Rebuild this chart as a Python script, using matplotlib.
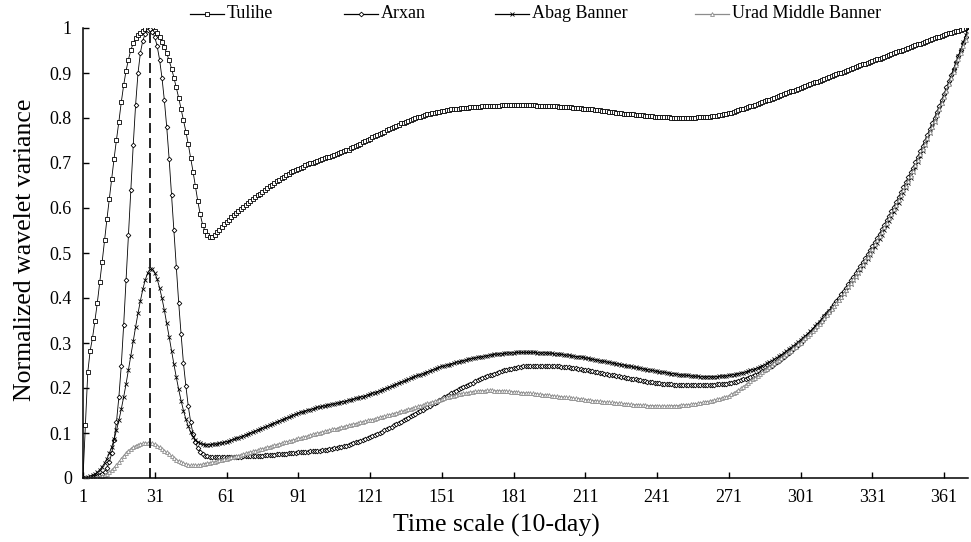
import numpy as np
import matplotlib
matplotlib.use("Agg")
import matplotlib.pyplot as plt
from matplotlib.lines import Line2D

plt.rcParams['font.family'] = ['Liberation Serif', 'DejaVu Serif']

# ---------------- data (normalized wavelet variance, time scale 1..371) -------------
series_names = ["Tulihe", "Arxan", "Abag Banner", "Urad Middle Banner"]
xtick_labels = [1, 31, 61, 91, 121, 151, 181, 211, 241, 271, 301, 331, 361]
ytick_labels = ["0", "0.1", "0.2", "0.3", "0.4", "0.5", "0.6", "0.7", "0.8", "0.9", "1"]
peak_scale = 29

tulihe = [
    0.000, 0.118, 0.235, 0.283, 0.312, 0.350, 0.390, 0.435, 0.480, 0.528,
    0.575, 0.620, 0.665, 0.710, 0.752, 0.792, 0.835, 0.873, 0.905, 0.930,
    0.951, 0.966, 0.977, 0.985, 0.990, 0.994, 0.997, 0.999, 1.000, 0.998,
    0.994, 0.988, 0.980, 0.970, 0.958, 0.944, 0.928, 0.910, 0.890, 0.868,
    0.845, 0.820, 0.795, 0.770, 0.742, 0.712, 0.681, 0.648, 0.615, 0.586,
    0.563, 0.549, 0.540, 0.536, 0.536, 0.540, 0.546, 0.552, 0.558, 0.564,
    0.569, 0.574, 0.579, 0.584, 0.589, 0.594, 0.598, 0.603, 0.607, 0.612,
    0.616, 0.620, 0.624, 0.628, 0.632, 0.636, 0.640, 0.644, 0.648, 0.652,
    0.656, 0.659, 0.663, 0.666, 0.670, 0.673, 0.676, 0.679, 0.682, 0.685,
    0.687, 0.690, 0.692, 0.695, 0.697, 0.699, 0.701, 0.703, 0.705, 0.707,
    0.709, 0.711, 0.713, 0.714, 0.716, 0.718, 0.720, 0.722, 0.724, 0.726,
    0.728, 0.730, 0.733, 0.735, 0.738, 0.740, 0.743, 0.746, 0.748, 0.751,
    0.754, 0.757, 0.759, 0.762, 0.765, 0.767, 0.770, 0.773, 0.775, 0.778,
    0.780, 0.783, 0.785, 0.788, 0.790, 0.792, 0.794, 0.796, 0.798, 0.800,
    0.802, 0.803, 0.805, 0.806, 0.808, 0.809, 0.811, 0.812, 0.813, 0.814,
    0.815, 0.816, 0.817, 0.818, 0.819, 0.820, 0.820, 0.821, 0.822, 0.822,
    0.823, 0.823, 0.824, 0.824, 0.825, 0.825, 0.825, 0.826, 0.826, 0.826,
    0.827, 0.827, 0.827, 0.827, 0.827, 0.828, 0.828, 0.828, 0.828, 0.828,
    0.828, 0.828, 0.828, 0.828, 0.828, 0.828, 0.828, 0.828, 0.828, 0.828,
    0.827, 0.827, 0.827, 0.827, 0.827, 0.826, 0.826, 0.826, 0.826, 0.825,
    0.825, 0.825, 0.824, 0.824, 0.824, 0.823, 0.823, 0.822, 0.822, 0.821,
    0.821, 0.820, 0.820, 0.819, 0.818, 0.818, 0.817, 0.816, 0.816, 0.815,
    0.814, 0.814, 0.813, 0.812, 0.812, 0.811, 0.810, 0.810, 0.809, 0.808,
    0.808, 0.807, 0.807, 0.806, 0.806, 0.805, 0.805, 0.804, 0.804, 0.803,
    0.803, 0.803, 0.802, 0.802, 0.802, 0.802, 0.801, 0.801, 0.801, 0.801,
    0.801, 0.801, 0.801, 0.801, 0.801, 0.801, 0.801, 0.802, 0.802, 0.802,
    0.802, 0.803, 0.803, 0.804, 0.804, 0.805, 0.806, 0.807, 0.808, 0.809,
    0.811, 0.812, 0.814, 0.815, 0.817, 0.819, 0.820, 0.822, 0.824, 0.826,
    0.827, 0.829, 0.831, 0.833, 0.835, 0.837, 0.839, 0.841, 0.843, 0.845,
    0.847, 0.849, 0.851, 0.853, 0.855, 0.857, 0.859, 0.861, 0.863, 0.865,
    0.867, 0.869, 0.871, 0.873, 0.875, 0.877, 0.879, 0.881, 0.883, 0.885,
    0.887, 0.889, 0.891, 0.893, 0.895, 0.897, 0.899, 0.901, 0.903, 0.905,
    0.907, 0.909, 0.911, 0.913, 0.915, 0.917, 0.919, 0.921, 0.923, 0.925,
    0.927, 0.929, 0.931, 0.932, 0.934, 0.936, 0.938, 0.940, 0.942, 0.944,
    0.946, 0.948, 0.950, 0.952, 0.954, 0.956, 0.958, 0.960, 0.962, 0.964,
    0.965, 0.967, 0.969, 0.971, 0.973, 0.975, 0.977, 0.979, 0.981, 0.983,
    0.984, 0.986, 0.988, 0.990, 0.991, 0.993, 0.994, 0.996, 0.997, 0.999,
    1.000,
]

arxan = [
    0.000, 0.000, 0.001, 0.001, 0.002, 0.003, 0.004, 0.006, 0.009, 0.014,
    0.022, 0.035, 0.055, 0.085, 0.125, 0.180, 0.250, 0.340, 0.440, 0.540,
    0.640, 0.740, 0.830, 0.900, 0.945, 0.972, 0.987, 0.995, 0.997, 0.992,
    0.980, 0.960, 0.930, 0.890, 0.840, 0.780, 0.710, 0.630, 0.550, 0.470,
    0.390, 0.320, 0.255, 0.205, 0.160, 0.125, 0.098, 0.079, 0.066, 0.058,
    0.053, 0.050, 0.048, 0.047, 0.046, 0.046, 0.046, 0.046, 0.046, 0.046,
    0.046, 0.046, 0.047, 0.047, 0.047, 0.047, 0.047, 0.048, 0.048, 0.048,
    0.049, 0.049, 0.049, 0.050, 0.050, 0.050, 0.051, 0.051, 0.052, 0.052,
    0.052, 0.053, 0.053, 0.054, 0.054, 0.054, 0.055, 0.055, 0.056, 0.056,
    0.057, 0.057, 0.058, 0.058, 0.058, 0.059, 0.059, 0.060, 0.060, 0.061,
    0.062, 0.062, 0.063, 0.064, 0.065, 0.066, 0.067, 0.068, 0.069, 0.071,
    0.072, 0.074, 0.075, 0.077, 0.079, 0.080, 0.082, 0.084, 0.086, 0.088,
    0.091, 0.093, 0.095, 0.098, 0.100, 0.103, 0.106, 0.108, 0.111, 0.114,
    0.117, 0.120, 0.122, 0.125, 0.128, 0.131, 0.134, 0.137, 0.140, 0.143,
    0.146, 0.149, 0.152, 0.155, 0.158, 0.161, 0.164, 0.167, 0.170, 0.173,
    0.176, 0.179, 0.182, 0.185, 0.188, 0.191, 0.194, 0.197, 0.199, 0.202,
    0.205, 0.207, 0.210, 0.212, 0.215, 0.217, 0.219, 0.222, 0.224, 0.226,
    0.228, 0.230, 0.232, 0.234, 0.236, 0.237, 0.239, 0.240, 0.242, 0.243,
    0.244, 0.245, 0.246, 0.247, 0.248, 0.248, 0.249, 0.249, 0.250, 0.250,
    0.250, 0.250, 0.250, 0.250, 0.250, 0.249, 0.249, 0.249, 0.248, 0.248,
    0.247, 0.247, 0.246, 0.246, 0.245, 0.244, 0.244, 0.243, 0.242, 0.241,
    0.240, 0.239, 0.238, 0.237, 0.236, 0.235, 0.234, 0.233, 0.232, 0.231,
    0.230, 0.229, 0.228, 0.227, 0.226, 0.225, 0.224, 0.223, 0.222, 0.221,
    0.220, 0.219, 0.218, 0.217, 0.216, 0.215, 0.214, 0.214, 0.213, 0.212,
    0.211, 0.211, 0.210, 0.209, 0.209, 0.208, 0.208, 0.207, 0.207, 0.207,
    0.206, 0.206, 0.206, 0.206, 0.206, 0.206, 0.206, 0.206, 0.206, 0.206,
    0.206, 0.206, 0.207, 0.207, 0.207, 0.208, 0.208, 0.209, 0.209, 0.210,
    0.211, 0.212, 0.213, 0.214, 0.216, 0.217, 0.219, 0.221, 0.223, 0.225,
    0.227, 0.229, 0.232, 0.234, 0.237, 0.240, 0.243, 0.246, 0.249, 0.253,
    0.257, 0.261, 0.265, 0.269, 0.273, 0.277, 0.282, 0.286, 0.291, 0.296,
    0.301, 0.306, 0.311, 0.317, 0.322, 0.328, 0.334, 0.340, 0.346, 0.352,
    0.359, 0.366, 0.372, 0.379, 0.386, 0.393, 0.400, 0.408, 0.415, 0.423,
    0.431, 0.439, 0.447, 0.455, 0.463, 0.472, 0.480, 0.489, 0.497, 0.506,
    0.515, 0.524, 0.534, 0.543, 0.553, 0.563, 0.573, 0.583, 0.593, 0.603,
    0.614, 0.624, 0.635, 0.646, 0.657, 0.668, 0.679, 0.690, 0.702, 0.714,
    0.726, 0.738, 0.750, 0.762, 0.775, 0.788, 0.801, 0.814, 0.827, 0.840,
    0.854, 0.868, 0.882, 0.896, 0.910, 0.924, 0.938, 0.952, 0.966, 0.980,
    0.994,
]

abag = [
    0.000, 0.001, 0.002, 0.004, 0.006, 0.009, 0.013, 0.018, 0.025, 0.033,
    0.043, 0.055, 0.069, 0.086, 0.106, 0.128, 0.153, 0.180, 0.209, 0.240,
    0.272, 0.304, 0.336, 0.366, 0.394, 0.419, 0.440, 0.455, 0.464, 0.464,
    0.456, 0.442, 0.423, 0.400, 0.373, 0.344, 0.314, 0.283, 0.253, 0.224,
    0.197, 0.172, 0.150, 0.131, 0.115, 0.102, 0.092, 0.085, 0.080, 0.077,
    0.075, 0.074, 0.074, 0.074, 0.075, 0.075, 0.076, 0.077, 0.078, 0.079,
    0.081, 0.082, 0.084, 0.086, 0.088, 0.090, 0.092, 0.094, 0.096, 0.098,
    0.100, 0.102, 0.104, 0.107, 0.109, 0.111, 0.113, 0.115, 0.118, 0.120,
    0.122, 0.124, 0.127, 0.129, 0.131, 0.133, 0.135, 0.137, 0.140, 0.142,
    0.144, 0.146, 0.147, 0.149, 0.151, 0.152, 0.154, 0.155, 0.157, 0.158,
    0.159, 0.160, 0.162, 0.163, 0.164, 0.165, 0.166, 0.167, 0.169, 0.170,
    0.171, 0.173, 0.174, 0.175, 0.177, 0.178, 0.180, 0.181, 0.183, 0.185,
    0.186, 0.188, 0.190, 0.192, 0.194, 0.196, 0.198, 0.200, 0.202, 0.204,
    0.206, 0.208, 0.211, 0.213, 0.215, 0.217, 0.219, 0.222, 0.224, 0.226,
    0.228, 0.230, 0.232, 0.234, 0.236, 0.238, 0.240, 0.242, 0.244, 0.246,
    0.248, 0.249, 0.251, 0.252, 0.254, 0.255, 0.257, 0.258, 0.260, 0.261,
    0.262, 0.264, 0.265, 0.266, 0.267, 0.268, 0.269, 0.270, 0.271, 0.272,
    0.273, 0.274, 0.275, 0.275, 0.276, 0.276, 0.277, 0.277, 0.278, 0.278,
    0.278, 0.279, 0.279, 0.279, 0.279, 0.279, 0.279, 0.279, 0.279, 0.279,
    0.278, 0.278, 0.278, 0.278, 0.278, 0.277, 0.277, 0.276, 0.276, 0.275,
    0.275, 0.274, 0.273, 0.273, 0.272, 0.271, 0.270, 0.270, 0.269, 0.268,
    0.267, 0.266, 0.265, 0.264, 0.263, 0.262, 0.261, 0.260, 0.259, 0.258,
    0.257, 0.256, 0.255, 0.254, 0.253, 0.252, 0.251, 0.250, 0.249, 0.248,
    0.247, 0.246, 0.245, 0.244, 0.243, 0.242, 0.241, 0.240, 0.239, 0.238,
    0.237, 0.236, 0.235, 0.235, 0.234, 0.233, 0.232, 0.232, 0.231, 0.230,
    0.229, 0.229, 0.228, 0.228, 0.227, 0.227, 0.226, 0.226, 0.225, 0.225,
    0.225, 0.225, 0.225, 0.225, 0.225, 0.225, 0.226, 0.226, 0.227, 0.227,
    0.228, 0.229, 0.230, 0.231, 0.232, 0.233, 0.234, 0.236, 0.237, 0.239,
    0.241, 0.243, 0.245, 0.247, 0.250, 0.252, 0.255, 0.258, 0.261, 0.264,
    0.267, 0.271, 0.274, 0.278, 0.282, 0.286, 0.290, 0.294, 0.298, 0.303,
    0.307, 0.312, 0.316, 0.321, 0.326, 0.331, 0.337, 0.342, 0.347, 0.353,
    0.359, 0.365, 0.371, 0.377, 0.383, 0.390, 0.396, 0.403, 0.410, 0.417,
    0.424, 0.432, 0.439, 0.447, 0.455, 0.463, 0.471, 0.479, 0.487, 0.496,
    0.505, 0.514, 0.523, 0.532, 0.541, 0.551, 0.561, 0.571, 0.581, 0.591,
    0.601, 0.612, 0.623, 0.634, 0.645, 0.656, 0.667, 0.679, 0.691, 0.703,
    0.715, 0.727, 0.740, 0.753, 0.766, 0.779, 0.792, 0.806, 0.820, 0.834,
    0.848, 0.862, 0.877, 0.892, 0.907, 0.922, 0.937, 0.952, 0.968, 0.984,
    1.000,
]

urad = [
    0.000, 0.000, 0.000, 0.000, 0.001, 0.001, 0.002, 0.003, 0.004, 0.006,
    0.009, 0.013, 0.018, 0.023, 0.029, 0.036, 0.043, 0.050, 0.056, 0.061,
    0.065, 0.069, 0.072, 0.074, 0.076, 0.077, 0.078, 0.078, 0.078, 0.077,
    0.075, 0.072, 0.069, 0.065, 0.061, 0.057, 0.053, 0.049, 0.045, 0.041,
    0.038, 0.035, 0.033, 0.031, 0.029, 0.028, 0.028, 0.028, 0.029, 0.030,
    0.031, 0.032, 0.033, 0.034, 0.035, 0.036, 0.037, 0.039, 0.040, 0.042,
    0.043, 0.044, 0.046, 0.047, 0.049, 0.050, 0.052, 0.053, 0.055, 0.056,
    0.058, 0.059, 0.061, 0.062, 0.064, 0.065, 0.067, 0.068, 0.070, 0.071,
    0.073, 0.074, 0.076, 0.077, 0.079, 0.080, 0.082, 0.083, 0.085, 0.086,
    0.088, 0.089, 0.091, 0.092, 0.094, 0.095, 0.097, 0.098, 0.099, 0.101,
    0.102, 0.104, 0.105, 0.106, 0.108, 0.109, 0.110, 0.112, 0.113, 0.114,
    0.116, 0.117, 0.118, 0.120, 0.121, 0.122, 0.124, 0.125, 0.126, 0.128,
    0.129, 0.130, 0.132, 0.133, 0.135, 0.136, 0.137, 0.139, 0.140, 0.142,
    0.143, 0.145, 0.146, 0.148, 0.149, 0.151, 0.153, 0.154, 0.156, 0.157,
    0.159, 0.161, 0.162, 0.164, 0.166, 0.167, 0.169, 0.171, 0.172, 0.174,
    0.176, 0.177, 0.179, 0.180, 0.182, 0.183, 0.185, 0.186, 0.187, 0.188,
    0.189, 0.190, 0.191, 0.192, 0.193, 0.193, 0.194, 0.194, 0.194, 0.195,
    0.195, 0.195, 0.194, 0.194, 0.194, 0.194, 0.193, 0.193, 0.193, 0.192,
    0.192, 0.191, 0.191, 0.190, 0.190, 0.189, 0.189, 0.188, 0.188, 0.187,
    0.187, 0.186, 0.185, 0.185, 0.184, 0.184, 0.183, 0.182, 0.182, 0.181,
    0.181, 0.180, 0.179, 0.179, 0.178, 0.177, 0.177, 0.176, 0.176, 0.175,
    0.174, 0.174, 0.173, 0.172, 0.172, 0.171, 0.171, 0.170, 0.169, 0.169,
    0.168, 0.168, 0.167, 0.167, 0.166, 0.166, 0.165, 0.165, 0.164, 0.164,
    0.163, 0.163, 0.163, 0.162, 0.162, 0.162, 0.161, 0.161, 0.161, 0.161,
    0.160, 0.160, 0.160, 0.160, 0.160, 0.160, 0.161, 0.161, 0.161, 0.161,
    0.162, 0.162, 0.163, 0.163, 0.164, 0.164, 0.165, 0.166, 0.167, 0.168,
    0.169, 0.170, 0.171, 0.172, 0.173, 0.175, 0.176, 0.178, 0.179, 0.181,
    0.183, 0.186, 0.189, 0.192, 0.195, 0.199, 0.203, 0.207, 0.211, 0.215,
    0.219, 0.223, 0.227, 0.231, 0.235, 0.239, 0.243, 0.247, 0.251, 0.255,
    0.259, 0.263, 0.267, 0.271, 0.275, 0.279, 0.283, 0.288, 0.292, 0.297,
    0.301, 0.306, 0.311, 0.316, 0.321, 0.326, 0.332, 0.337, 0.343, 0.349,
    0.355, 0.362, 0.368, 0.375, 0.382, 0.389, 0.396, 0.403, 0.411, 0.418,
    0.426, 0.434, 0.442, 0.450, 0.458, 0.467, 0.475, 0.484, 0.492, 0.501,
    0.510, 0.519, 0.528, 0.538, 0.547, 0.557, 0.567, 0.577, 0.587, 0.597,
    0.607, 0.618, 0.628, 0.639, 0.650, 0.661, 0.672, 0.683, 0.695, 0.707,
    0.719, 0.731, 0.743, 0.755, 0.768, 0.781, 0.794, 0.807, 0.820, 0.833,
    0.847, 0.861, 0.875, 0.889, 0.903, 0.917, 0.931, 0.945, 0.959, 0.973,
    0.987,
]

# ---------------- figure ------------------------------------------------------------
W, H = 971, 542
fig = plt.figure(figsize=(W / 100, H / 100), dpi=100)
ax = fig.add_axes([83 / W, 64 / H, 885 / W, 450 / H])

scales = np.arange(1, len(tulihe) + 1)
styles = [
    dict(color="black", marker="s", ms=3.2, mfc="white", mec="black", mew=0.6),
    dict(color="black", marker="D", ms=2.4, mfc="white", mec="black", mew=0.6),
    dict(color="black", marker="x", ms=3.0, mec="black", mew=0.6),
    dict(color="#8c8c8c", marker="^", ms=2.8, mfc="white", mec="#8c8c8c", mew=0.6),
]
for name, vals, st in zip(series_names, [tulihe, arxan, abag, urad], styles):
    ax.plot(scales, vals, lw=0.6, label=name, **st)

ax.vlines(peak_scale, 0, 0.995, colors="black", linestyles=(0, (6, 3)), lw=1.2)

ax.set_xlim(1, len(tulihe))
ax.set_ylim(0, 1)
ax.set_xticks(xtick_labels)
ax.set_xticklabels([str(v) for v in xtick_labels])
ax.set_yticks(np.linspace(0, 1, 11))
ax.set_yticklabels(ytick_labels)
ax.tick_params(direction="in", length=4, width=1, labelsize=13, colors="black")
ax.tick_params(axis="x", pad=8)
ax.tick_params(axis="y", pad=8)
for s in ["top", "right"]:
    ax.spines[s].set_visible(False)
for s in ["left", "bottom"]:
    ax.spines[s].set_linewidth(1.1)

fig.text(496 / W, 1 - 525 / H, "Time scale (10-day)", fontsize=18.5,
         ha="center", va="center")
fig.text(25 / W, 1 - 250 / H, "Normalized wavelet variance", fontsize=18.5,
         ha="center", va="center", rotation=90)

# legend (manual, horizontal, no frame)
leg_y = 1 - 14 / H
handle_x = [190, 344, 495, 695]
for name, st, hx in zip(series_names, styles, handle_x):
    x0, x1 = hx / W, (hx + 34) / W
    fig.add_artist(Line2D([x0, x1], [leg_y, leg_y], transform=fig.transFigure,
                          color=st["color"], lw=0.9))
    mst = {k: v for k, v in st.items() if k != "color"}
    fig.add_artist(Line2D([(x0 + x1) / 2], [leg_y], transform=fig.transFigure,
                          color=st["color"], lw=0, **mst))
    fig.text(x1 + 3 / W, leg_y, name, fontsize=13, va="center", ha="left")

fig.savefig("out.png", dpi=100)
